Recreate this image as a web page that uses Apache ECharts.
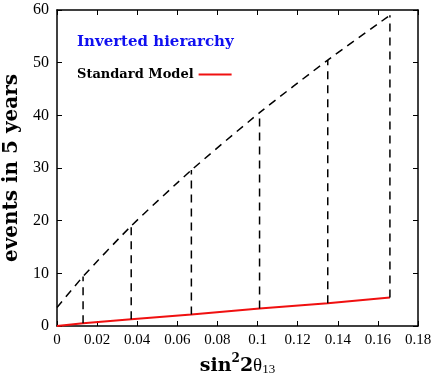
<!DOCTYPE html>
<html>
<head>
<meta charset="utf-8">
<script src="https://cdn.jsdelivr.net/npm/echarts@6/dist/echarts.min.js"></script>
<style>
  html, body { margin: 0; padding: 0; background: #fff; }
  #main { width: 436px; height: 382px; }
</style>
</head>
<body>
<div id="main"></div>
<script>
// sin^2 2theta13 values where the event counts were computed
const xs = [0, 0.013, 0.037, 0.067, 0.101, 0.135, 0.166];
// events in 5 years, inverted hierarchy
const invHier = [3.5, 9.4, 19.0, 29.6, 40.5, 50.5, 59.0];
// events in 5 years, standard model
const stdModel = [0, 0.5, 1.3, 2.2, 3.3, 4.3, 5.4];
const xTicks = [0, 0.02, 0.04, 0.06, 0.08, 0.1, 0.12, 0.14, 0.16, 0.18];
const yTicks = [0, 10, 20, 30, 40, 50, 60];

const serif = '"Liberation Serif", serif';
const boldSerif = '"DejaVu Serif", serif';

const chart = echarts.init(document.getElementById('main'));

// vertical dashed drops from the inverted hierarchy curve to the SM line
const drops = [];
for (let i = 1; i < xs.length; i++) {
    drops.push({
        type: 'line',
        symbol: 'none',
        silent: true,
        lineStyle: { color: '#000', width: 1.5, type: [8, 6] },
        data: [[xs[i], stdModel[i]], [xs[i], invHier[i]]]
    });
}

const frameAxis = {
    axisLine: { show: true, onZero: false, lineStyle: { color: '#000', width: 1.5 } },
    axisTick: { show: true, inside: true, length: 5, lineStyle: { color: '#000' } },
    axisLabel: { show: false },
    splitLine: { show: false }
};

const option = {
    animation: false,
    title: {
        text: 'Inverted hierarchy',
        left: 72,
        top: 30,
        textStyle: { fontFamily: boldSerif, fontWeight: 'bold', fontSize: 15, color: '#1010f0' }
    },
    legend: {
        data: ['Standard Model'],
        left: 72,
        top: 63,
        align: 'right',
        icon: 'rect',
        itemWidth: 33,
        itemHeight: 2,
        textStyle: { fontFamily: boldSerif, fontWeight: 'bold', fontSize: 13, color: '#000' }
    },
    grid: { left: 57, right: 18, top: 10, bottom: 56, containLabel: false, outerBoundsMode: 'none' },
    xAxis: [Object.assign({}, frameAxis, {
        type: 'value',
        min: 0, max: 0.18, interval: 0.02,
        axisLabel: {
            fontFamily: serif, fontSize: 15, color: '#000', margin: 7,
            formatter: v => {
                const t = xTicks.find(k => Math.abs(k - v) < 1e-9);
                return t === undefined ? '' : String(t);
            }
        },
        name: '{b|sin}{sup|2}{b|2}{t|θ}{sub|13}',
        nameLocation: 'middle',
        nameGap: 27,
        nameTextStyle: {
            rich: {
                b: { fontFamily: boldSerif, fontWeight: 'bold', fontSize: 19, color: '#000' },
                sup: { fontFamily: boldSerif, fontWeight: 'bold', fontSize: 12, color: '#000', verticalAlign: 'top', padding: [0, 0, 14, 0] },
                t: { fontFamily: serif, fontSize: 19, color: '#000' },
                sub: { fontFamily: serif, fontSize: 13, color: '#000', padding: [8, 0, 0, 0] }
            }
        }
    }), Object.assign({}, frameAxis, {
        type: 'value',
        position: 'top',
        min: 0, max: 0.18, interval: 0.02
    })],
    yAxis: [Object.assign({}, frameAxis, {
        type: 'value',
        min: 0, max: 60, interval: 10,
        axisLabel: {
            fontFamily: serif, fontSize: 16, color: '#000', margin: 8,
            formatter: v => (yTicks.indexOf(v) >= 0 ? String(v) : '')
        },
        name: 'events in 5 years',
        nameLocation: 'middle',
        nameGap: 34,
        nameTextStyle: { fontFamily: boldSerif, fontWeight: 'bold', fontSize: 20, color: '#000' }
    }), Object.assign({}, frameAxis, {
        type: 'value',
        position: 'right',
        min: 0, max: 60, interval: 10
    })],
    series: [{
        name: 'Inverted hierarchy',
        type: 'line',
        symbol: 'none',
        smooth: 0.2,
        lineStyle: { color: '#000', width: 1.5, type: [8, 6] },
        data: xs.map((x, i) => [x, invHier[i]])
    }, {
        name: 'Standard Model',
        type: 'line',
        symbol: 'none',
        itemStyle: { color: '#f01010' },
        lineStyle: { color: '#f01010', width: 2 },
        data: xs.map((x, i) => [x, stdModel[i]])
    }].concat(drops)
};

chart.setOption(option);
</script>
</body>
</html>
